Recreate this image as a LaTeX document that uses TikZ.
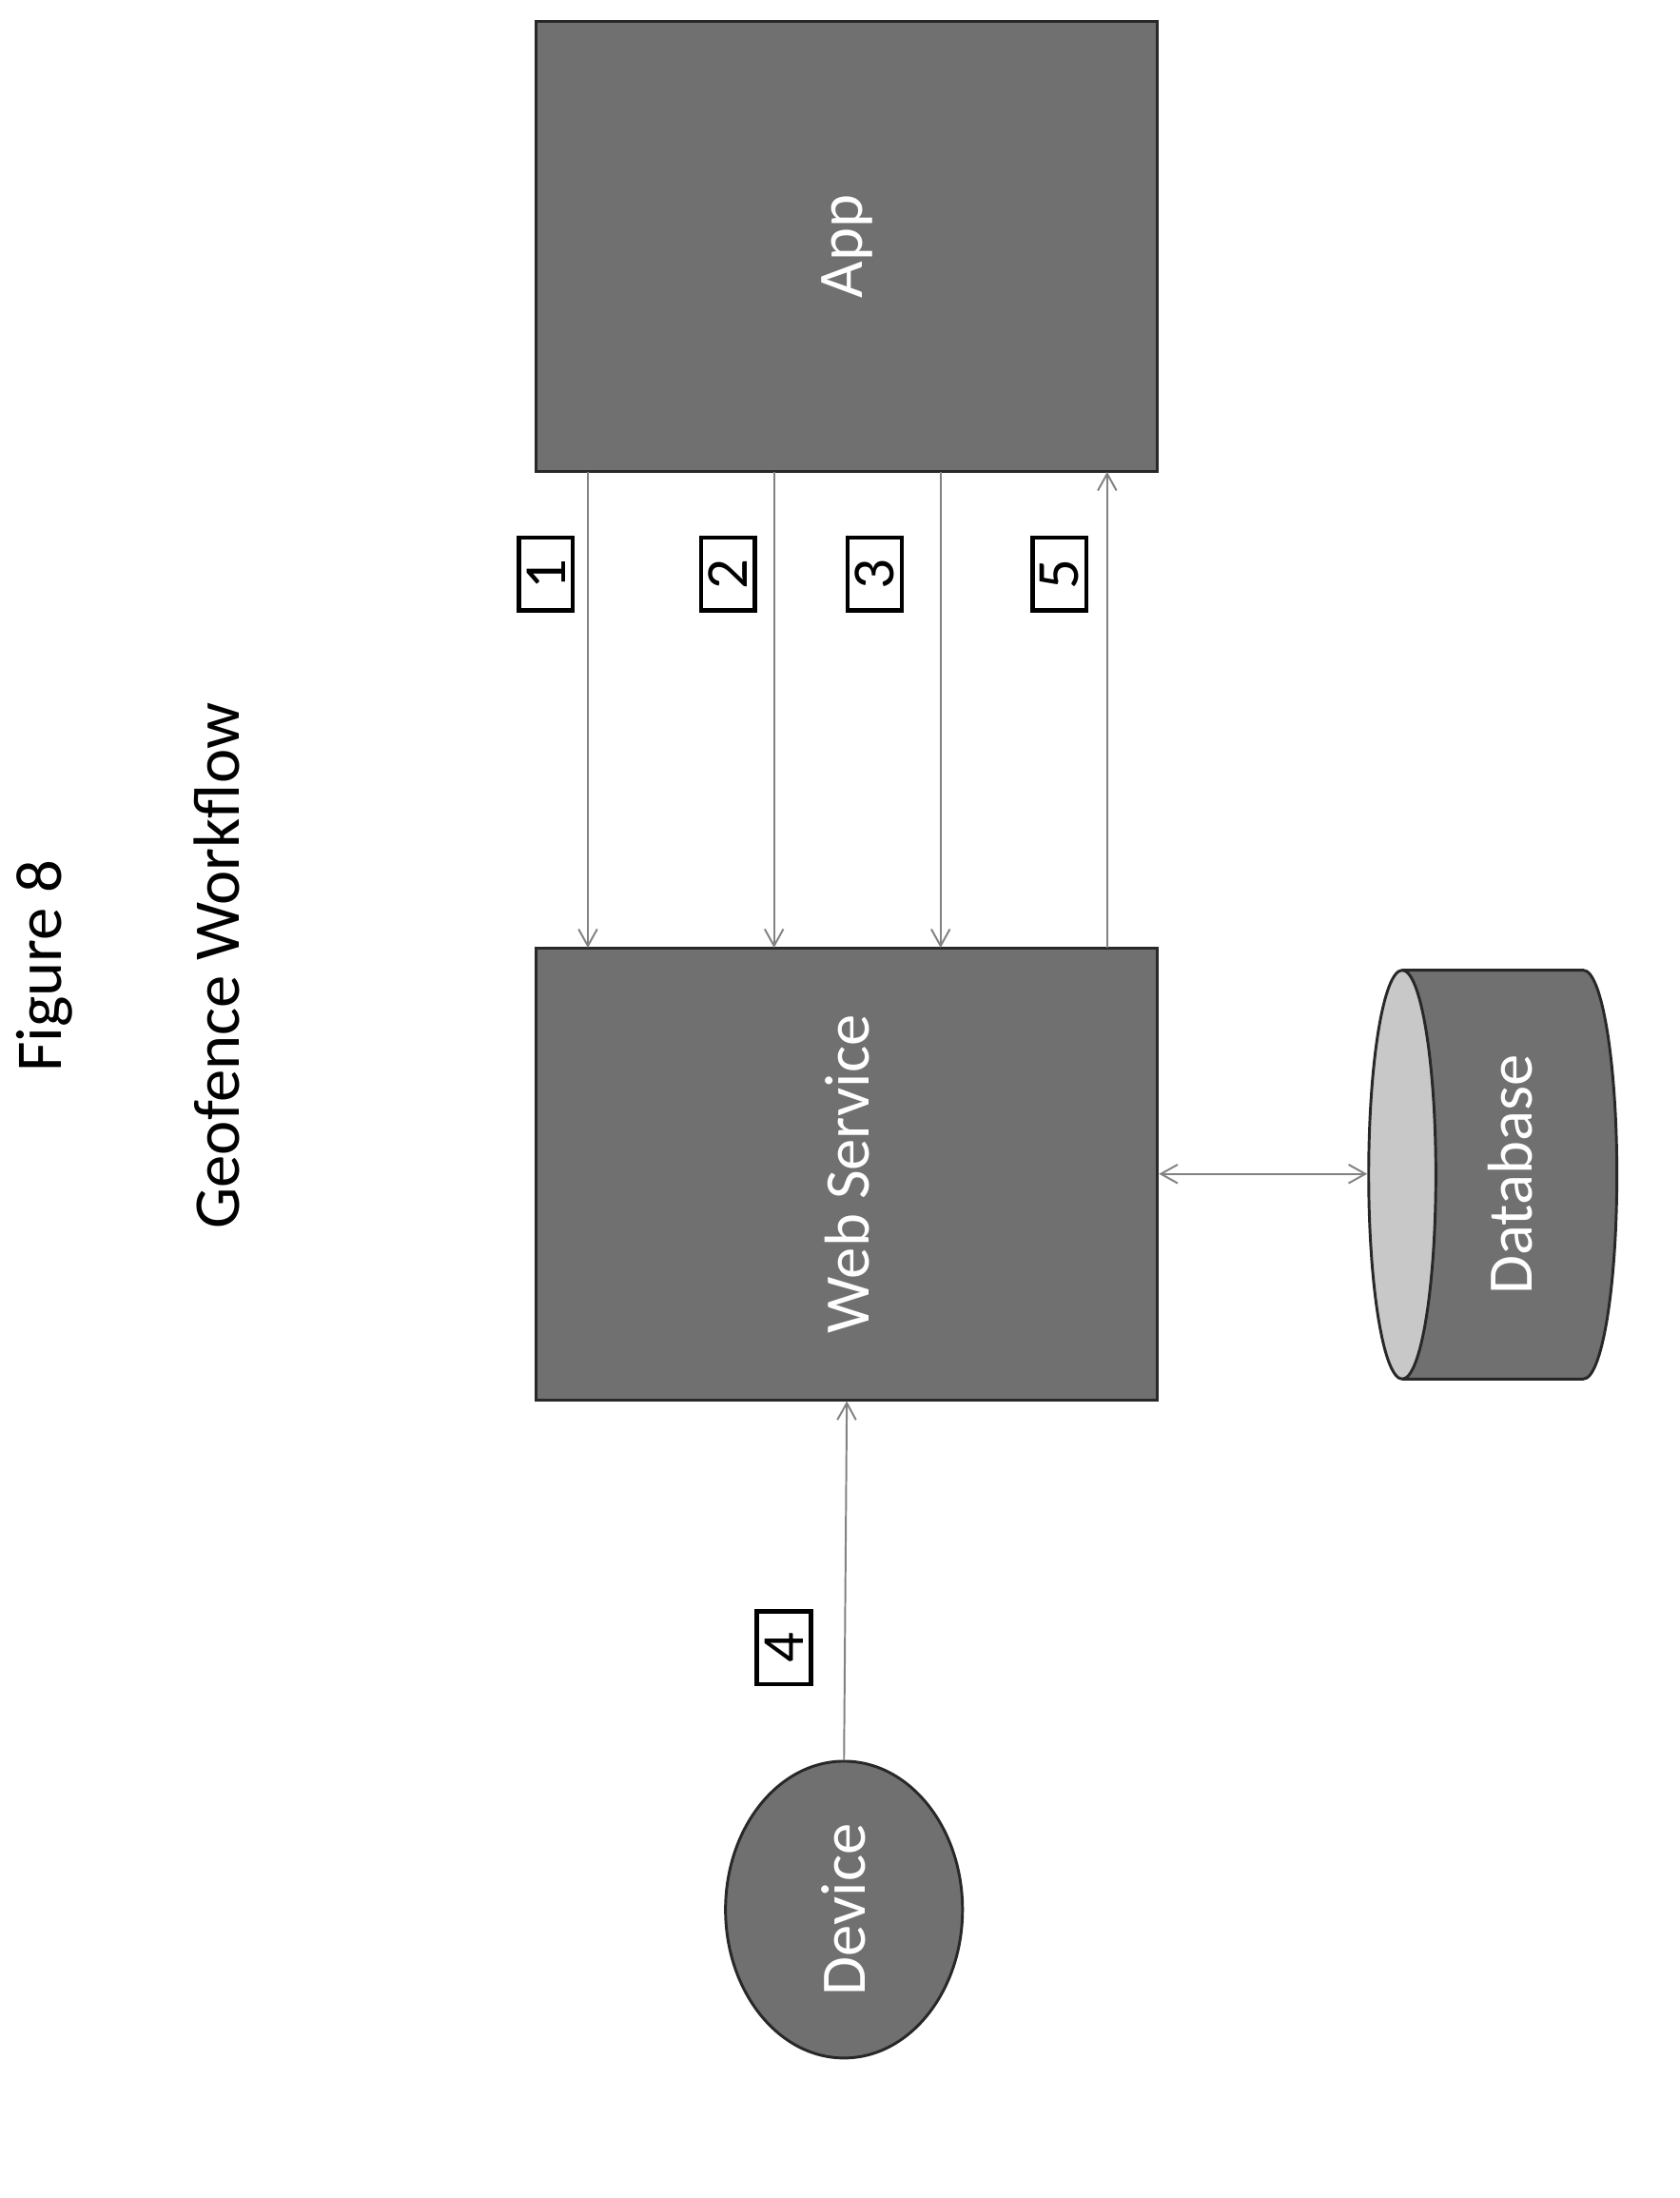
\documentclass[tikz,border=0pt]{standalone}
\usepackage{fontspec}
\setmainfont{Carlito}
\usepackage{graphicx}
\usetikzlibrary{shapes.geometric,arrows.meta}

\tikzset{every picture/.style={line width=0.75pt}}
\tikzset{
  block/.style={draw={rgb,255:red,40;green,40;blue,40}, line width=1.5pt, fill={rgb,255:red,112;green,112;blue,112}, text=white, font=\fontsize{34}{34}\selectfont, inner sep=0pt},
  stepbox/.style={draw=black, line width=2.2pt, fill=white, minimum width=29pt, minimum height=39pt, inner sep=0pt, font=\fontsize{32}{32}\selectfont},
  flow/.style={draw={rgb,255:red,130;green,130;blue,130}, line width=1pt, -{Straight Barb[length=9pt,width=10pt]}},
  title/.style={font=\fontsize{35}{35}\selectfont, inner sep=0pt}
}

\begin{document}
\begin{tikzpicture}[x=0.75pt,y=0.75pt,yscale=-1,xscale=1]
\useasboundingbox (0,0) rectangle (1200,1570);

% Titles
\node [title] (fig) at (32,690) {\rotatebox{90}{Figure 8}};
\node [title] (geo) at (155,690) {\rotatebox{90}{Geofence Workflow}};

% Blocks
\node [block, minimum width=333pt, minimum height=241.5pt] (app) at (605,176) {\rotatebox{90}{App}};
\node [block, minimum width=333pt, minimum height=242pt] (web) at (605,838.5) {\rotatebox{90}{Web Service}};
\node [block, fill=none, shape=cylinder, shape border rotate=180, cylinder uses custom fill, cylinder body fill={rgb,255:red,112;green,112;blue,112}, cylinder end fill={rgb,255:red,200;green,200;blue,200}, aspect=0.28, minimum height=133pt, minimum width=219pt] (db) at (1079,839) {\rotatebox{90}{Database}};
\node [block, shape=ellipse, minimum width=127pt, minimum height=159pt] (dev) at (603,1364) {\rotatebox{90}{Device}};

% Connectors
\coordinate (a1) at (420,337); \coordinate (b1) at (420,677);
\coordinate (a2) at (553,337); \coordinate (b2) at (553,677);
\coordinate (a3) at (672,337); \coordinate (b3) at (672,677);
\coordinate (a5) at (791,337); \coordinate (b5) at (791,677);
\draw [flow] (a1) -- (b1);
\draw [flow] (a2) -- (b2);
\draw [flow] (a3) -- (b3);
\draw [flow] (b5) -- (a5);
\draw [flow, {Straight Barb[length=9pt,width=10pt]}-{Straight Barb[length=9pt,width=10pt]}] (web.east) -- (web.east -| db.west);
\draw [flow] (dev.north) -- (web.south);

% Step labels
\node [stepbox] (s1) at (390,410) {\rotatebox{90}{1}};
\node [stepbox] (s2) at (520,410) {\rotatebox{90}{2}};
\node [stepbox] (s3) at (625,410) {\rotatebox{90}{3}};
\node [stepbox] (s5) at (757,410) {\rotatebox{90}{5}};
\node [stepbox] (s4) at (560,1177) {\rotatebox{90}{4}};

\end{tikzpicture}
\end{document}
